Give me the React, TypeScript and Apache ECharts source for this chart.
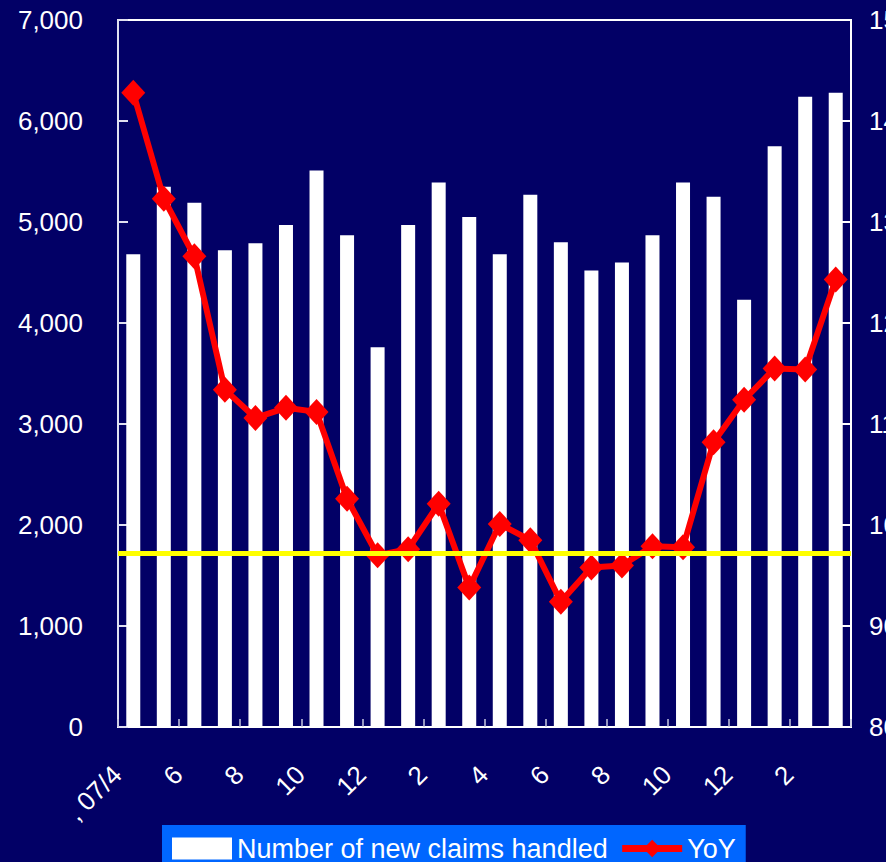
import React, { useEffect, useRef } from "react";
import * as echarts from "echarts";

const months = [", 07/4", "5", "6", "7", "8", "9", "10", "11", "12", "1", "2", "3", "4", "5", "6", "7", "8", "9", "10", "11", "12", "1", "2", "3"];
const newClaims = [4680, 5350, 5190, 4720, 4790, 4970, 5510, 4870, 3760, 4970, 5390, 5050, 4680, 5270, 4800, 4520, 4600, 4870, 5390, 5250, 4230, 5750, 6240, 6280];
const yoy = [142.8, 132.3, 126.6, 113.4, 110.6, 111.6, 111.2, 102.6, 97.0, 97.6, 102.1, 93.8, 100.1, 98.5, 92.4, 95.8, 96.0, 97.9, 97.8, 108.2, 112.4, 115.5, 115.4, 124.3];
const referenceLevel = 97.2;

const FONT = "'Liberation Sans', Arial, sans-serif";

export default function App() {
  const ref = useRef<HTMLDivElement>(null);
  useEffect(() => {
    document.body.style.margin = "0";
    const chart = echarts.init(ref.current!, null, { renderer: "svg" });
    chart.setOption({
      animation: false,
      backgroundColor: "#020066",
      textStyle: { fontFamily: FONT },
      grid: { left: 118, top: 20, right: 35, bottom: 135, show: true, borderColor: "#ffffff", borderWidth: 2, containLabel: false, outerBoundsMode: "none" },
      legend: {
        data: [
          { name: "Number of new claims handled", icon: "rect" },
          { name: "YoY", lineStyle: { width: 7 } },
        ],
        left: 162,
        top: 825,
        backgroundColor: "#0066ff",
        padding: [10, 10, 10, 10],
        itemGap: 11,
        itemWidth: 60,
        itemHeight: 22,
        textStyle: { color: "#ffffff", fontSize: 27, fontFamily: FONT },
      },
      xAxis: {
        type: "category",
        data: months,
        boundaryGap: true,
        axisLine: { show: true, lineStyle: { color: "#ffffff", width: 2 } },
        axisTick: { show: true, inside: true, length: 8, lineStyle: { color: "#c8c8e0", width: 1.5 } },
        axisLabel: { interval: 1, rotate: 45, color: "#ffffff", fontSize: 26, margin: 27, padding: [0, 23, 0, 0], fontFamily: FONT },
        splitLine: { show: false },
      },
      yAxis: [
        {
          type: "value",
          min: 0,
          max: 7000,
          interval: 1000,
          axisLine: { show: true, lineStyle: { color: "#e0e0f0", width: 2 } },
          axisTick: { show: true, inside: true, length: 10, lineStyle: { color: "#e0e0f0", width: 2 } },
          axisLabel: {
            color: "#ffffff",
            fontSize: 26,
            margin: 35,
            fontFamily: FONT,
            formatter: (v: number) => v.toLocaleString("en-US"),
          },
          splitLine: { show: false },
        },
        {
          type: "value",
          min: 80,
          max: 150,
          interval: 10,
          position: "right",
          name: "(%)",
          nameLocation: "end",
          nameGap: 24,
          nameTextStyle: { color: "#ffffff", fontSize: 26, fontFamily: FONT },
          axisLine: { show: true, lineStyle: { color: "#ffffff", width: 2 } },
          axisTick: { show: true, inside: true, length: 10, lineStyle: { color: "#ffffff", width: 2 } },
          axisLabel: { color: "#ffffff", fontSize: 26, margin: 18, fontFamily: FONT },
          splitLine: { show: false },
        },
      ],
      series: [
        {
          name: "Number of new claims handled",
          type: "bar",
          data: newClaims,
          barWidth: 14,
          itemStyle: { color: "#ffffff" },
          z: 2,
        },
        {
          name: "YoY",
          type: "line",
          yAxisIndex: 1,
          data: yoy,
          symbol: "diamond",
          symbolSize: [24, 26],
          showAllSymbol: true,
          lineStyle: { color: "#ff0000", width: 6 },
          itemStyle: { color: "#ff0000" },
          z: 4,
        },
        {
          name: "level",
          type: "line",
          yAxisIndex: 1,
          data: [],
          z: 6,
          markLine: {
            silent: true,
            symbol: "none",
            label: { show: false },
            lineStyle: { color: "#ffff00", width: 5, type: "solid" },
            data: [{ yAxis: referenceLevel }],
          },
        },
      ],
    });
    return () => chart.dispose();
  }, []);
  return <div ref={ref} style={{ width: 886, height: 862, position: "absolute", left: 0, top: 0 }} />;
}
